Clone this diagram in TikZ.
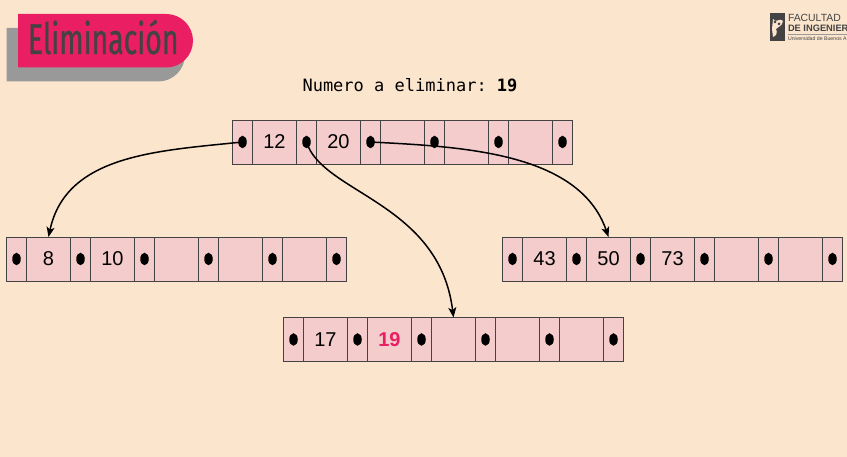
\documentclass[tikz,border=0pt]{standalone}
\usepackage{xcolor}
\usepackage{fontspec}
\setmainfont{Liberation Sans}
\setmonofont{DejaVu Sans Mono}
\newfontfamily\titlefont[FakeStretch=0.66,FakeBold=0.6]{Fira Sans}
\usetikzlibrary{arrows.meta,positioning,shapes.misc,shapes.geometric}
\definecolor{Paper}{HTML}{FCE5CD}
\definecolor{CellPink}{HTML}{F4CCCC}
\definecolor{HotPink}{HTML}{E91E63}
\definecolor{DarkGray}{HTML}{434343}
\definecolor{ShadowGray}{HTML}{999999}

\begin{document}
\begin{tikzpicture} [x=1pt, y=1pt, >={Stealth[length=10pt,width=8pt,inset=2.5pt]},
	   every node/.style={inner sep=0pt, outer sep=0pt},
	   titlebox/.style = {rounded rectangle, rounded rectangle west arc=none,
	                      minimum width=175pt, minimum height=53.5pt},
	   ptrcell/.style = {rectangle, draw=DarkGray, fill=CellPink, line width=0.9pt,
	                     minimum width=20pt, minimum height=44pt},
	   keycell/.style = {ptrcell, minimum width=44pt, font=\fontsize{20}{24}\selectfont},
	   ptrdot/.style = {ellipse, fill=black, minimum width=8.5pt, minimum height=12.5pt},
	   link/.style = {->, black, line width=1.5pt}]
	%% Page
	\fill[Paper] (0,0) rectangle (847,457);
	\useasboundingbox (0,0) rectangle (847,457);

	%% Title
	\node [titlebox,fill=ShadowGray,minimum width=178.5pt,anchor=north west] (shadow) at (6.5,429) {};
	\node [titlebox,fill=HotPink,anchor=north west] (title) at (18,443) {};
	\node [anchor=base west,text=DarkGray,font=\titlefont\fontsize{43}{48}\selectfont] (titletext) at (28,403) {Eliminación};

	%% Logo
	\node [rectangle,fill=DarkGray,anchor=north west,minimum width=14.5pt,minimum height=28pt] (crest) at (770,444) {};
	\fill[Paper] (773,438) .. controls (776,433) and (780,440) .. (783,436) .. controls (782,430) and (778,431) .. (776,428) .. controls (778,424) and (776,421) .. (773,420) -- (772,428) -- cycle;
	\fill[DarkGray] (775,435) circle (1.5) (779,433) circle (1.5);
	\node [anchor=base west,text=DarkGray,font=\fontsize{10.4}{12}\selectfont] (facultad) at (788,435) {FACULTAD};
	\node [anchor=base west,text=DarkGray,font=\bfseries\fontsize{9.3}{12}\selectfont] (ingenieria) at (788,425.5) {DE INGENIER};
	\draw[ShadowGray,line width=0.6pt] (788,423) -- (847,423);
	\node [anchor=base west,text=DarkGray,font=\fontsize{5.2}{7}\selectfont] (uba) at (788,416) {Universidad de Buenos A};

	%% Caption
	\node [font=\ttfamily\fontsize{17}{20}\selectfont] (caption) at (410,371.5) {Numero a eliminar: \textbf{19}};

	%% Pages of the tree
	\foreach \pg/\px/\py/\keys in {root/242.5/315/{12,20,{},{},{}},
	                               left/16.5/198/{8,10,{},{},{}},
	                               right/512.5/198/{43,50,73,{},{}},
	                               mid/293.5/117.5/{17,\textcolor{HotPink}{\textbf{19}},{},{},{}}} {
		\node [ptrcell] (\pg-p1) at (\px,\py) {};
		\node [ptrdot] (\pg-d1) at (\pg-p1) {};
		\foreach \k [count=\i, evaluate=\i as \j using int(\i+1)] in \keys {
			\node [keycell,right=0pt of \pg-p\i] (\pg-k\i) {\k};
			\node [ptrcell,right=0pt of \pg-k\i] (\pg-p\j) {};
			\node [ptrdot] (\pg-d\j) at (\pg-p\j) {};
		}
	}

	%% Links
	\draw[link] (root-d1.center) to[out=186,in=78,looseness=1] (left-k1.north);
	\draw[link] (root-d2.center) to[out=-73,in=97,out looseness=0.6,in looseness=1.3] (mid-k3.north);
	\draw[link] (root-d3.center) to[out=-3,in=109,looseness=0.9] (right-k2.north);
\end{tikzpicture}
\end{document}
